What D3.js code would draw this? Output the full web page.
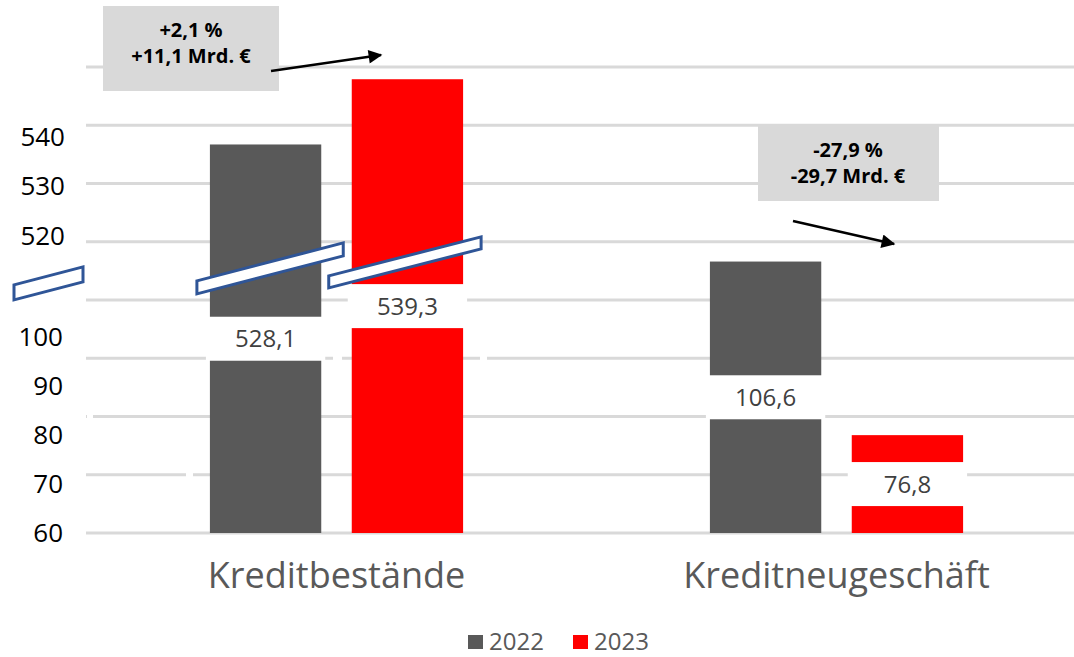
<!DOCTYPE html>
<html>
<head>
<meta charset="utf-8">
<script src="https://cdn.jsdelivr.net/npm/d3@7"></script>
<style>
  html, body { margin: 0; padding: 0; background: #fff; }
  svg { display: block; font-family: "Open Sans", "Noto Sans", sans-serif; }
</style>
</head>
<body>
<script>
// ---------- data ----------
const categories = ["Kreditbestände", "Kreditneugeschäft"];
const years = ["2022", "2023"];
const values2022 = [528.1, 106.6];
const values2023 = [539.3, 76.8];
const brokenAxis = [true, false];          // Kreditbestände drawn on the upper (broken) segment
const lowerTicks = [60, 70, 80, 90, 100];
const upperTicks = [520, 530, 540];
const annotationPct = ["+2,1 %", "-27,9 %"];
const annotationAbs = ["+11,1 Mrd. €", "-29,7 Mrd. €"];
const colors = ["#595959", "#ff0000"];

// ---------- layout ----------
const W = 1074, H = 657;
const svg = d3.select("body").append("svg").attr("width", W).attr("height", H);

const x0 = d3.scaleBand().domain(categories).range([86.5, 1086.5]).padding(0);
const x1 = d3.scaleBand().domain(years).range([0, x0.bandwidth()]).paddingInner(0.215).paddingOuter(0.87);

const yLow = d3.scaleLinear().domain([60, 140]).range([533, 67]);
const breakOffset = 401.4;
const yHigh = d3.scaleLinear().domain([60 + breakOffset, 140 + breakOffset]).range([533, 67]);
const labLow = d3.scaleLinear().domain([60, 100]).range([533, 337]);
const labHigh = d3.scaleLinear().domain([520, 540]).range([236, 136.5]);

const fmt = d3.formatLocale({decimal: ",", thousands: ".", grouping: [3], currency: ["", "€"]}).format(".1f");

// gridlines
svg.append("g").selectAll("line").data(yLow.ticks(8)).join("line")
  .attr("x1", 86).attr("x2", W)
  .attr("y1", d => yLow(d)).attr("y2", d => yLow(d))
  .attr("stroke", "#d9d9d9").attr("stroke-width", 3);

// small gaps in gridlines
const gaps = [[80, 1.0, 6], [90, 333 - 86, 9], [90, 480 - 86, 7], [70, 186 - 86, 7]];
svg.append("g").selectAll("rect").data(gaps).join("rect")
  .attr("x", d => 86 + d[1]).attr("y", d => yLow(d[0]) - 2.5)
  .attr("width", d => d[2]).attr("height", 5).attr("fill", "#fff");

// y tick labels
const yl = svg.append("g").attr("font-size", 26).attr("fill", "#000").attr("text-anchor", "end");
yl.selectAll(".lo").data(lowerTicks).join("text").attr("class", "lo")
  .attr("x", 63).attr("y", d => labLow(d)).attr("dy", "0.35em").text(d => d);
yl.selectAll(".hi").data(upperTicks).join("text").attr("class", "hi")
  .attr("x", 65).attr("y", d => labHigh(d)).attr("dy", "0.35em").text(d => d);

// bars
const rows = [];
categories.forEach((c, i) => {
  rows.push({cat: c, year: years[0], v: values2022[i], broken: brokenAxis[i], col: colors[0]});
  rows.push({cat: c, year: years[1], v: values2023[i], broken: brokenAxis[i], col: colors[1]});
});
const yOf = d => (d.broken ? yHigh(d.v) : yLow(d.v));
const bx = d => x0(d.cat) + x1(d.year);
const bw = x1.bandwidth();

svg.append("g").selectAll("rect").data(rows).join("rect")
  .attr("x", bx).attr("width", bw)
  .attr("y", yOf).attr("height", d => yLow(60) - yOf(d))
  .attr("fill", d => d.col);

// value labels with white boxes
const lab = svg.append("g").selectAll("g").data(rows).join("g")
  .attr("transform", d => `translate(${bx(d) + bw / 2},${(yOf(d) + yLow(60)) / 2})`);
lab.append("rect").attr("x", -bw / 2 - 4).attr("y", -22).attr("width", bw + 8).attr("height", 44).attr("fill", "#fff");
lab.append("text").attr("text-anchor", "middle").attr("dy", "0.36em")
  .attr("font-size", 24).attr("fill", "#404040").text(d => fmt(d.v));

// break marks
const yb = yLow(105);
const c0 = categories[0];
const marks = [
  {xl: 14, xr: 83, tl: yb + 14, tr: yb - 4, h: 15},
  {xl: x0(c0) + x1(years[0]) - 13, xr: x0(c0) + x1(years[0]) + bw + 22, tl: yb + 10, tr: yb - 28, h: 13},
  {xl: x0(c0) + x1(years[1]) - 23, xr: x0(c0) + x1(years[1]) + bw + 18, tl: yb + 5, tr: yb - 34, h: 12}
];
svg.append("g").selectAll("path").data(marks).join("path")
  .attr("d", m => `M${m.xl},${m.tl}L${m.xr},${m.tr}L${m.xr},${m.tr + m.h}L${m.xl},${m.tl + m.h}Z`)
  .attr("fill", "#fff").attr("stroke", "#2f5597").attr("stroke-width", 3).attr("stroke-linejoin", "miter");

// annotations
const defs = svg.append("defs");
defs.append("marker").attr("id", "ah").attr("viewBox", "0 0 10 10").attr("refX", 9).attr("refY", 5)
  .attr("markerWidth", 6).attr("markerHeight", 5.5).attr("orient", "auto").attr("markerUnits", "strokeWidth")
  .append("path").attr("d", "M0,0L10,5L0,10Z").attr("fill", "#000");

const annos = [
  {box: [103, 6, 176, 85], cx: 191, y1: 30, y2: 56, arrow: [271, 71, 381, 55]},
  {box: [758, 126, 181, 75], cx: 848, y1: 150, y2: 176, arrow: [793, 221, 894, 244]}
];
annos.forEach((a, i) => {
  const g = svg.append("g");
  g.append("rect").attr("x", a.box[0]).attr("y", a.box[1]).attr("width", a.box[2]).attr("height", a.box[3]).attr("fill", "#d9d9d9");
  g.append("text").attr("x", a.cx).attr("y", a.y1).attr("dy", "0.35em").attr("text-anchor", "middle")
    .attr("font-size", 20).attr("font-weight", "bold").attr("fill", "#000").text(annotationPct[i]);
  g.append("text").attr("x", a.cx).attr("y", a.y2).attr("dy", "0.35em").attr("text-anchor", "middle")
    .attr("font-size", 20).attr("font-weight", "bold").attr("fill", "#000").text(annotationAbs[i]);
  g.append("line").attr("x1", a.arrow[0]).attr("y1", a.arrow[1]).attr("x2", a.arrow[2]).attr("y2", a.arrow[3])
    .attr("stroke", "#000").attr("stroke-width", 2.5).attr("marker-end", "url(#ah)");
});

// category labels
svg.append("g").selectAll("text").data(categories).join("text")
  .attr("x", d => x0(d) + x0.bandwidth() / 2).attr("y", 588)
  .attr("text-anchor", "middle").attr("font-size", 36).attr("fill", "#595959").text(d => d);

// legend
const lg = svg.append("g");
const legX = [468, 573];
years.forEach((y, i) => {
  lg.append("rect").attr("x", legX[i]).attr("y", 635).attr("width", 15).attr("height", 14).attr("fill", colors[i]);
  lg.append("text").attr("x", legX[i] + 21).attr("y", 650).attr("font-size", 24).attr("fill", "#595959").text(y);
});
</script>
</body>
</html>
